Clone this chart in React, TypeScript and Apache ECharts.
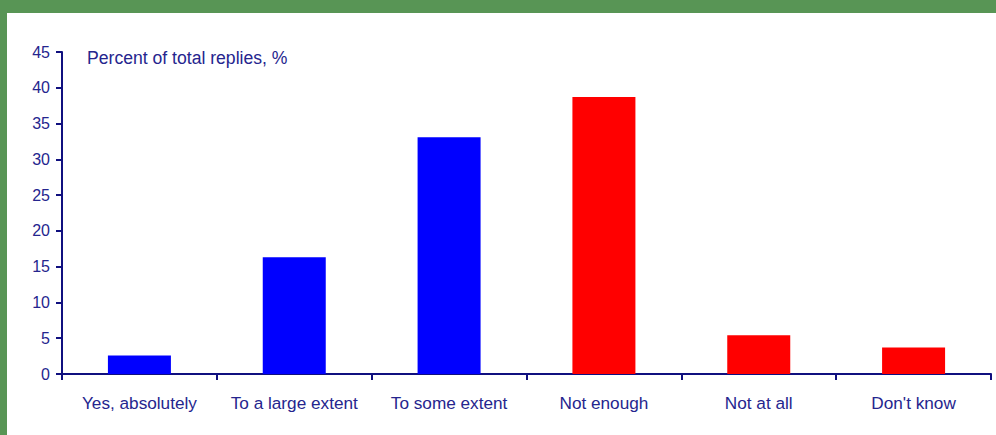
import React, { useEffect, useRef } from "react";
import * as echarts from "echarts";

// Survey answers and their share of all replies (%)
const categories = [
  "Yes, absolutely",
  "To a large extent",
  "To some extent",
  "Not enough",
  "Not at all",
  "Don't know",
];
// Positive answers (blue) and negative / unsure answers (red)
const positiveValues: (number | string)[] = [2.6, 16.3, 33.1, "-", "-", "-"];
const negativeValues: (number | string)[] = ["-", "-", "-", 38.7, 5.4, 3.7];
const yTicks = { min: 0, max: 45, step: 5 };
const axisTitle = "Percent of total replies, %";

const NAVY_TEXT = "#25258e";
const NAVY_LINE = "#10107f";
const FONT = "'Liberation Sans', Arial, sans-serif";

export default function App() {
  const ref = useRef<HTMLDivElement>(null);

  useEffect(() => {
    if (!ref.current) return;
    const chart = echarts.init(ref.current, null, { renderer: "svg" });
    chart.setOption({
      animation: false,
      backgroundColor: "#ffffff",
      textStyle: { fontFamily: FONT },
      grid: { left: 62, right: 5, top: 52, bottom: 61 },
      graphic: [
        { type: "rect", shape: { x: 0, y: 0, width: 996, height: 13 }, style: { fill: "#589555" } },
        { type: "rect", shape: { x: 0, y: 0, width: 7, height: 435 }, style: { fill: "#589555" } },
        {
          type: "text",
          x: 87,
          y: 58,
          style: {
            text: axisTitle,
            fill: NAVY_TEXT,
            font: `17.6px ${FONT}`,
            verticalAlign: "middle",
          },
        },
      ],
      xAxis: {
        type: "category",
        data: categories,
        axisLine: { lineStyle: { color: NAVY_LINE, width: 2 } },
        axisTick: { show: true, length: 6, inside: false, lineStyle: { color: NAVY_LINE, width: 2 } },
        axisLabel: { color: NAVY_TEXT, fontSize: 17.2, fontFamily: FONT, margin: 20, interval: 0 },
        splitLine: { show: false },
      },
      yAxis: {
        type: "value",
        min: yTicks.min,
        max: yTicks.max,
        interval: yTicks.step,
        axisLine: { show: true, lineStyle: { color: NAVY_LINE, width: 2 } },
        axisTick: { show: true, length: 6, inside: false, lineStyle: { color: NAVY_LINE, width: 2 } },
        axisLabel: { color: NAVY_TEXT, fontSize: 16, fontFamily: FONT, margin: 12 },
        splitLine: { show: false },
      },
      series: [
        {
          type: "bar",
          stack: "answers",
          data: positiveValues,
          barWidth: 63,
          itemStyle: { color: "#0000ff" },
        },
        {
          type: "bar",
          stack: "answers",
          data: negativeValues,
          barWidth: 63,
          itemStyle: { color: "#ff0000" },
        },
      ],
    });
    return () => chart.dispose();
  }, []);

  return (
    <div
      ref={ref}
      style={{ position: "fixed", left: 0, top: 0, width: 996, height: 435 }}
    />
  );
}
